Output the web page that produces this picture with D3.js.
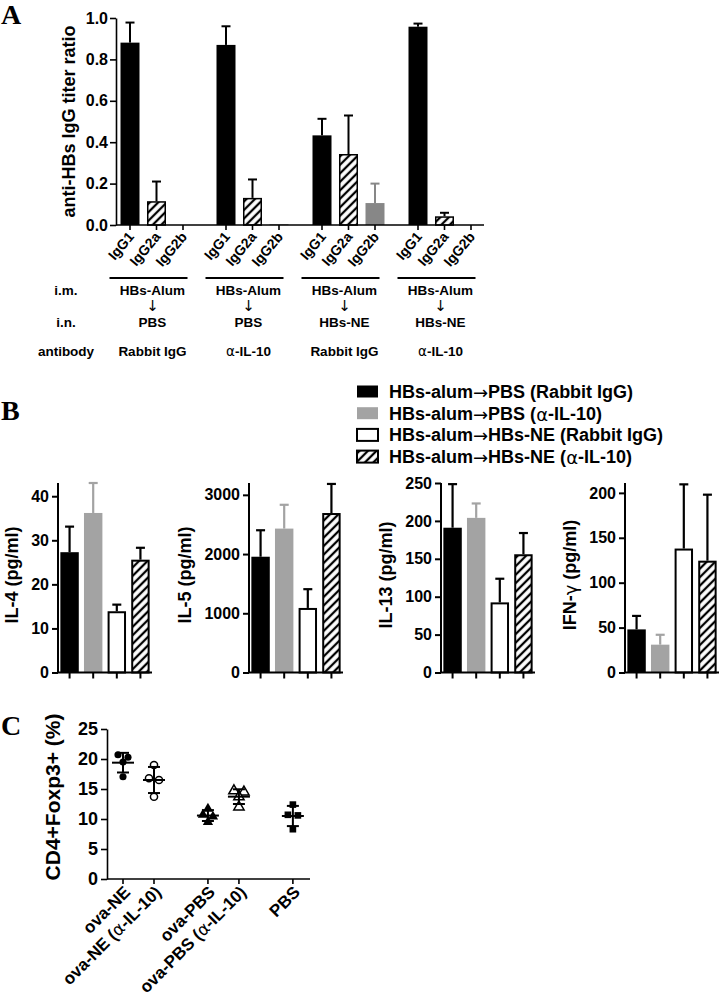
<!DOCTYPE html>
<html lang="en">
<head>
<meta charset="UTF-8">
<title>Anti-HBs IgG subclasses, cytokines and Foxp3+ T cells</title>
<script src="https://d3js.org/d3.v7.min.js"></script>
<style>
  body { margin: 0; background: #fff; }
  svg { display: block; font-family: "Liberation Sans", Arial, sans-serif; }
  .letter { font-family: "Liberation Serif", "Times New Roman", serif; font-weight: bold; font-size: 28px; }
  .axis text { font-weight: bold; fill: #000; font-family: "Liberation Sans", Arial, sans-serif; }
  .axis path, .axis line { stroke: #000; }
</style>
</head>
<body>
<svg id="fig" width="723" height="999"></svg>
<script>
// ---------- panel A: IgG subclass titer ratios ----------
const isotypes = ["IgG1", "IgG2a", "IgG2b"];
const imRoute = ["HBs-Alum", "HBs-Alum", "HBs-Alum", "HBs-Alum"];
const inRoute = ["PBS", "PBS", "HBs-NE", "HBs-NE"];
const antibodyA = ["Rabbit IgG", "α-IL-10", "Rabbit IgG", "α-IL-10"];
const ratioMean = [
  [0.881, 0.115, 0],
  [0.870, 0.131, 0.004],
  [0.433, 0.343, 0.106],
  [0.958, 0.042, 0]
];
const ratioErr = [
  [0.097, 0.095, 0],
  [0.090, 0.089, 0],
  [0.080, 0.186, 0.094],
  [0.015, 0.017, 0]
];

// ---------- panel B: cytokines ----------
const treatments = [
  "HBs-alum→PBS (Rabbit IgG)",
  "HBs-alum→PBS (α-IL-10)",
  "HBs-alum→HBs-NE (Rabbit IgG)",
  "HBs-alum→HBs-NE (α-IL-10)"
];
const cytokines = ["IL-4", "IL-5", "IL-13", "IFN-γ"];
const cytoMax = [43, 3200, 250, 211];
const cytoTicks = [
  [0, 10, 20, 30, 40],
  [0, 1000, 2000, 3000],
  [0, 50, 100, 150, 200, 250],
  [0, 50, 100, 150, 200]
];
const il4Mean = [27.3, 36.2, 13.9, 25.6];
const il4Err = [5.8, 6.8, 1.5, 2.7];
const il5Mean = [1955, 2430, 1090, 2693];
const il5Err = [447, 402, 317, 491];
const il13Mean = [191, 204, 92.5, 156];
const il13Err = [57.5, 19, 31.2, 28];
const ifnMean = [48, 31, 138, 124.5];
const ifnErr = [15, 11, 71.5, 73.5];

// ---------- panel C: CD4+Foxp3+ % ----------
const groupsC = ["ova-NE", "ova-NE (α-IL-10)", "ova-PBS", "ova-PBS (α-IL-10)", "PBS"];
const foxp3 = [
  [20.3, 20.7, 19.5, 17.05],
  [19.0, 16.5, 16.8, 13.7],
  [11.7, 10.7, 10.4, 9.5],
  [14.7, 14.5, 13.7, 12.0],
  [12.4, 10.7, 10.6, 8.3]
];

const svg = d3.select("#fig");
const defs = svg.append("defs");
const hatch = defs.append("pattern")
  .attr("id", "hatch")
  .attr("patternUnits", "userSpaceOnUse")
  .attr("width", 6).attr("height", 6)
  .attr("patternTransform", "rotate(45)");
hatch.append("rect").attr("width", 6).attr("height", 6).attr("fill", "#fff");
hatch.append("line").attr("x1", 3).attr("x2", 3).attr("y1", 0).attr("y2", 6)
  .attr("stroke", "#000").attr("stroke-width", 2.3);

// greek letters and arrows come from a symbol-like face in the original
function richText(sel, str) {
  str.split(/([→α↓γ])/).filter(s => s.length).forEach(part => {
    const sym = /^[→α↓γ]$/.test(part);
    const t = sel.append("tspan").text(part);
    if (sym) t.attr("font-family", "DejaVu Sans").attr("font-weight", "normal");
  });
  return sel;
}

function errBar(g, cx, yTop, yEnd, half, color, w) {
  g.append("line").attr("x1", cx).attr("x2", cx).attr("y1", yTop).attr("y2", yEnd)
    .attr("stroke", color).attr("stroke-width", w);
  g.append("line").attr("x1", cx - half).attr("x2", cx + half).attr("y1", yEnd).attr("y2", yEnd)
    .attr("stroke", color).attr("stroke-width", w);
}

// ================= PANEL A =================
svg.append("text").attr("class", "letter").attr("x", 1).attr("y", 24).text("A");

const A = { left: 116, top: 18, bottom: 225, right: 484 };
const yA = d3.scaleLinear().domain([0, 1]).range([A.bottom, A.top]);
const xGroupA = d3.scaleBand().domain(d3.range(4)).range([A.left, A.left + 384]);
const xIsoA = d3.scaleBand().domain(isotypes).range([4.5, 76.5]).paddingInner(0.283);
const fillA = { IgG1: "#000", IgG2a: "url(#hatch)", IgG2b: "#878787" };

const gA = svg.append("g");
const barsA = ratioMean.flatMap((row, g) => row.map((v, i) => ({
  g, iso: isotypes[i], v, e: ratioErr[g][i],
  cx: xGroupA(g) + xIsoA(isotypes[i]) + xIsoA.bandwidth() / 2
})));

gA.selectAll("rect.bar")
  .data(barsA.filter(d => d.v > 0))
  .join("rect")
  .attr("class", "bar")
  .attr("x", d => d.cx - xIsoA.bandwidth() / 2 + (d.iso === "IgG2a" ? 0.75 : 0))
  .attr("y", d => yA(d.v) + (d.iso === "IgG2a" ? 0.75 : 0))
  .attr("width", d => xIsoA.bandwidth() - (d.iso === "IgG2a" ? 1.5 : 0))
  .attr("height", d => Math.max(1, yA(0) - yA(d.v) - (d.iso === "IgG2a" ? 0.75 : 0)))
  .attr("fill", d => fillA[d.iso])
  .attr("stroke", d => d.iso === "IgG2a" ? "#000" : "none")
  .attr("stroke-width", 1.5);

barsA.filter(d => d.e > 0).forEach(d => {
  errBar(gA, d.cx, yA(d.v), yA(d.v + d.e), 4.5, d.iso === "IgG2b" ? "#878787" : "#000", 2);
});

const axA = gA.append("g").attr("class", "axis")
  .attr("transform", `translate(${A.left},0)`)
  .call(d3.axisLeft(yA).tickValues([0, 0.2, 0.4, 0.6, 0.8, 1.0]).tickFormat(d3.format(".1f"))
    .tickSize(6).tickSizeOuter(0).tickPadding(2));
axA.selectAll("text").attr("font-size", 16);
axA.selectAll("path, line").attr("stroke-width", 1.6);

gA.append("line").attr("x1", A.left).attr("x2", A.right).attr("y1", A.bottom).attr("y2", A.bottom)
  .attr("stroke", "#000").attr("stroke-width", 1.6);
gA.selectAll("line.xt").data(barsA).join("line").attr("class", "xt")
  .attr("x1", d => d.cx).attr("x2", d => d.cx)
  .attr("y1", A.bottom).attr("y2", A.bottom + 5)
  .attr("stroke", "#000").attr("stroke-width", 1.6);
gA.selectAll("text.xl").data(barsA).join("text").attr("class", "xl")
  .attr("transform", d => `translate(${d.cx + 1},${A.bottom + 9}) rotate(-50)`)
  .attr("text-anchor", "end").attr("dy", "0.35em")
  .attr("font-size", 14).attr("font-weight", "bold")
  .text(d => d.iso);

gA.append("text")
  .attr("transform", `translate(69,${(A.top + A.bottom) / 2}) rotate(-90)`)
  .attr("text-anchor", "middle").attr("dominant-baseline", "central")
  .attr("font-size", 18).attr("font-weight", "bold")
  .text("anti-HBs IgG titer ratio");

// route / antibody rows
const rowLabels = [["i.m.", 290], ["i.n.", 322], ["antibody", 351]];
rowLabels.forEach(([t, y]) => {
  gA.append("text").attr("x", 66).attr("y", y).attr("text-anchor", "middle")
    .attr("dominant-baseline", "central").attr("font-size", 13.5).attr("font-weight", "bold").text(t);
});
d3.range(4).forEach(g => {
  const mid = xGroupA(g) + xIsoA("IgG2a") + xIsoA.bandwidth() / 2 - 8;
  gA.append("line").attr("x1", mid - 39).attr("x2", mid + 39).attr("y1", 278).attr("y2", 278)
    .attr("stroke", "#000").attr("stroke-width", 2);
  const tx = mid + 4;
  gA.append("text").attr("x", tx).attr("y", 290).attr("text-anchor", "middle")
    .attr("dominant-baseline", "central").attr("font-size", 13.5).attr("font-weight", "bold").text(imRoute[g]);
  gA.append("text").attr("x", tx).attr("y", 306).attr("text-anchor", "middle")
    .attr("dominant-baseline", "central").attr("font-size", 15).attr("fill", "#000")
    .attr("font-family", "DejaVu Sans").text("↓");
  gA.append("text").attr("x", tx).attr("y", 322).attr("text-anchor", "middle")
    .attr("dominant-baseline", "central").attr("font-size", 13.5).attr("font-weight", "bold").text(inRoute[g]);
  gA.append("text").attr("x", tx).attr("y", 351).attr("text-anchor", "middle")
    .attr("dominant-baseline", "central").attr("font-size", 13.5).attr("font-weight", "bold")
    .call(richText, antibodyA[g]);
});

// ================= PANEL B =================
svg.append("text").attr("class", "letter").attr("x", 1).attr("y", 420).text("B");

const fillB = ["#000", "#a3a3a3", "#fff", "url(#hatch)"];
const strokeB = ["none", "none", "#000", "#000"];
const errColB = ["#000", "#a3a3a3", "#000", "#000"];

const legend = svg.append("g");
treatments.forEach((t, i) => {
  const y = 392 + i * 21.7;
  legend.append("rect").attr("x", 357).attr("y", y - 6.5).attr("width", 21).attr("height", 12)
    .attr("fill", fillB[i]).attr("stroke", strokeB[i]).attr("stroke-width", 2);
  legend.append("text").attr("x", 389).attr("y", y).attr("dominant-baseline", "central")
    .attr("font-size", 18).attr("font-weight", "bold").call(richText, t);
});

const cytoMeans = [il4Mean, il5Mean, il13Mean, ifnMean];
const cytoErrs = [il4Err, il5Err, il13Err, ifnErr];
const axisXB = [58, 249, 441, 625];
const B = { top: 483, bottom: 672.5 };

cytokines.forEach((name, k) => {
  const x0 = axisXB[k];
  const g = svg.append("g");
  const y = d3.scaleLinear().domain([0, cytoMax[k]]).range([B.bottom, B.top]);
  const x = d3.scaleBand().domain(d3.range(4)).range([x0, x0 + 94]).paddingInner(0.22).paddingOuter(0.1);

  cytoMeans[k].forEach((v, i) => {
    const inset = strokeB[i] === "none" ? 0 : 1;
    g.append("rect")
      .attr("x", x(i) + inset).attr("y", y(v) + inset)
      .attr("width", x.bandwidth() - 2 * inset).attr("height", y(0) - y(v) - inset)
      .attr("fill", fillB[i]).attr("stroke", strokeB[i]).attr("stroke-width", 2);
    errBar(g, x(i) + x.bandwidth() / 2, y(v), y(v + cytoErrs[k][i]), 4.5, errColB[i], 2.2);
  });

  const ax = g.append("g").attr("class", "axis").attr("transform", `translate(${x0},0)`)
    .call(d3.axisLeft(y).tickValues(cytoTicks[k]).tickFormat(d3.format("d"))
      .tickSize(6).tickSizeOuter(0).tickPadding(3));
  ax.selectAll("text").attr("font-size", 16);
  ax.selectAll("path, line").attr("stroke-width", 2);
  ax.select("path").attr("d", `M-0,${B.top}V${B.bottom}`);

  g.append("line").attr("x1", x0).attr("x2", x0 + 94).attr("y1", B.bottom).attr("y2", B.bottom)
    .attr("stroke", "#000").attr("stroke-width", 2);
  d3.range(4).forEach(i => {
    const cx = x(i) + x.bandwidth() / 2;
    g.append("line").attr("x1", cx).attr("x2", cx).attr("y1", B.bottom).attr("y2", B.bottom + 6)
      .attr("stroke", "#000").attr("stroke-width", 2);
  });

  const bb = ax.node().getBBox();
  g.append("text")
    .attr("transform", `translate(${x0 + bb.x - 19.5},575) rotate(-90)`)
    .attr("text-anchor", "middle").attr("dominant-baseline", "central")
    .attr("font-size", 18).attr("font-weight", "bold")
    .call(richText, name + " (pg/ml)");
});

// ================= PANEL C =================
svg.append("text").attr("class", "letter").attr("x", 1).attr("y", 735).text("C");

const C = { left: 107, right: 310, top: 729, bottom: 879 };
const yC = d3.scaleLinear().domain([0, 25]).range([C.bottom, C.top]);
const groupOfC = [0, 0, 1, 1, 2];
const memberOfC = [0, 1, 0, 1, 0];
const slotC = d3.scaleLinear().domain([0, 1]).range([123, 154]);
const xC = i => slotC(groupOfC[i] * 2.74 + memberOfC[i]);

const gC = svg.append("g");
const axC = gC.append("g").attr("class", "axis").attr("transform", `translate(${C.left},0)`)
  .call(d3.axisLeft(yC).tickValues([0, 5, 10, 15, 20, 25]).tickSize(6).tickSizeOuter(0).tickPadding(3));
axC.selectAll("text").attr("font-size", 18);
axC.selectAll("path, line").attr("stroke-width", 1.6);
gC.append("line").attr("x1", C.left).attr("x2", C.right).attr("y1", C.bottom).attr("y2", C.bottom)
  .attr("stroke", "#000").attr("stroke-width", 1.6);

gC.append("text")
  .attr("transform", `translate(52,797) rotate(-90)`)
  .attr("text-anchor", "middle").attr("dominant-baseline", "central")
  .attr("font-size", 21).attr("font-weight", "bold")
  .text("CD4+Foxp3+ (%)");

const markerType = [d3.symbolCircle, d3.symbolCircle, d3.symbolTriangle, d3.symbolTriangle, d3.symbolSquare];
const markerSize = [40, 40, 46, 46, 44];
const markerOpen = [false, true, false, true, false];

groupsC.forEach((name, i) => {
  const cx = xC(i);
  const vals = foxp3[i];
  const mean = d3.mean(vals);
  const sd = d3.deviation(vals);

  gC.append("line").attr("x1", cx).attr("x2", cx).attr("y1", C.bottom).attr("y2", C.bottom + 5)
    .attr("stroke", "#000").attr("stroke-width", 1.6);

  // horizontal spread for points with nearly equal values
  const order = vals.map((v, j) => ({ v, j })).sort((a, b) => b.v - a.v);
  const offsets = new Array(vals.length).fill(0);
  let k = 0;
  while (k < order.length) {
    let e = k;
    while (e + 1 < order.length && order[e].v - order[e + 1].v < 0.7) e++;
    const n = e - k + 1;
    for (let m = k; m <= e; m++) offsets[order[m].j] = (m - k - (n - 1) / 2) * 10;
    k = e + 1;
  }

  vals.forEach((v, j) => {
    gC.append("path")
      .attr("d", d3.symbol().type(markerType[i]).size(markerSize[i])())
      .attr("transform", `translate(${cx + offsets[j]},${yC(v)})`)
      .attr("fill", markerOpen[i] ? "#fff" : "#000")
      .attr("stroke", "#000").attr("stroke-width", markerOpen[i] ? 1.5 : 0);
  });

  gC.append("line").attr("x1", cx - 11).attr("x2", cx + 11).attr("y1", yC(mean)).attr("y2", yC(mean))
    .attr("stroke", "#000").attr("stroke-width", 2);
  gC.append("line").attr("x1", cx).attr("x2", cx).attr("y1", yC(mean - sd)).attr("y2", yC(mean + sd))
    .attr("stroke", "#000").attr("stroke-width", 2);
  [mean - sd, mean + sd].forEach(v => {
    gC.append("line").attr("x1", cx - 6).attr("x2", cx + 6).attr("y1", yC(v)).attr("y2", yC(v))
      .attr("stroke", "#000").attr("stroke-width", 2);
  });

  gC.append("text")
    .attr("transform", `translate(${cx + 4},${C.bottom + 10}) rotate(-45)`)
    .attr("text-anchor", "end").attr("dy", "0.35em")
    .attr("font-size", 17).attr("font-weight", "bold")
    .call(richText, name);
});
</script>
</body>
</html>
